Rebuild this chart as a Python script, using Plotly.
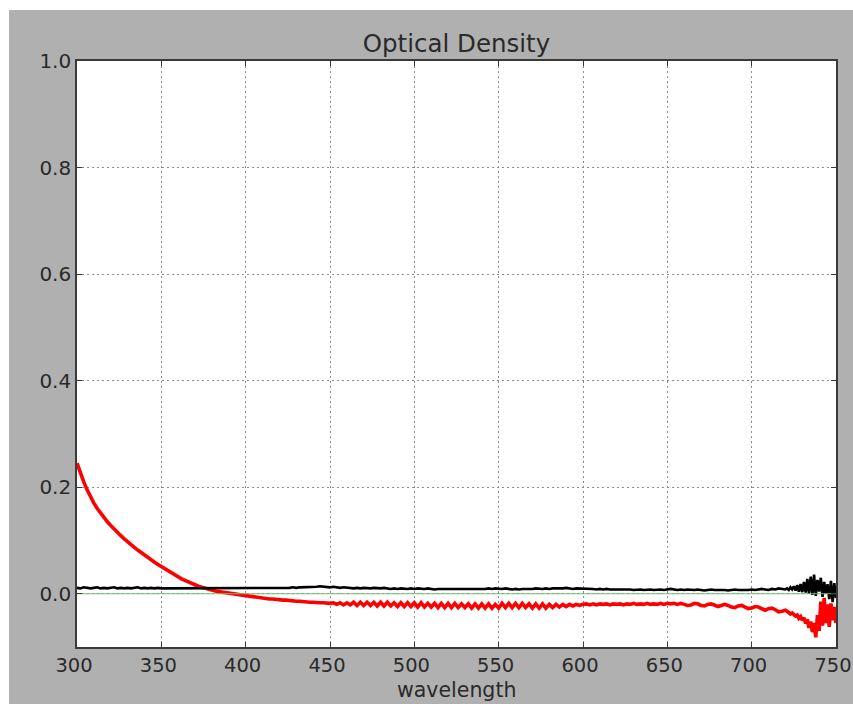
import plotly.graph_objects as go

# Wavelength sampling: 2 nm steps up to 720 nm, then 1 nm steps to 750 nm
wavelength = list(range(300, 722, 2)) + list(range(721, 751))

# Sample spectrum (red)
od_sample = [
    0.245, 0.226, 0.210, 0.195, 0.182, 0.170, 0.160, 0.151, 0.143, 0.135,
    0.128, 0.121, 0.115, 0.109, 0.103, 0.097, 0.092, 0.087, 0.082, 0.077,
    0.073, 0.068, 0.064, 0.059, 0.055, 0.051, 0.047, 0.043, 0.039, 0.035,
    0.031, 0.028, 0.025, 0.022, 0.019, 0.016, 0.014, 0.012, 0.010, 0.008,
    0.006, 0.005, 0.004, 0.003, 0.002, 0.001, 0.000, -0.001, -0.002, -0.003,
    -0.004, -0.005, -0.006, -0.007, -0.008, -0.008, -0.009, -0.010, -0.010, -0.011,
    -0.011, -0.012, -0.012, -0.013, -0.013, -0.014, -0.014, -0.015, -0.015, -0.016,
    -0.016, -0.017, -0.017, -0.017, -0.018, -0.018, -0.017, -0.020, -0.017, -0.021,
    -0.017, -0.021, -0.016, -0.022, -0.016, -0.022, -0.016, -0.022, -0.016, -0.023,
    -0.016, -0.023, -0.016, -0.023, -0.017, -0.024, -0.017, -0.024, -0.017, -0.024,
    -0.017, -0.025, -0.017, -0.025, -0.018, -0.025, -0.018, -0.026, -0.018, -0.026,
    -0.018, -0.026, -0.018, -0.026, -0.019, -0.026, -0.019, -0.027, -0.019, -0.027,
    -0.019, -0.027, -0.019, -0.027, -0.020, -0.027, -0.018, -0.026, -0.018, -0.026,
    -0.018, -0.026, -0.018, -0.026, -0.019, -0.027, -0.019, -0.027, -0.019, -0.027,
    -0.020, -0.026, -0.020, -0.025, -0.020, -0.024, -0.020, -0.023, -0.020, -0.022,
    -0.020, -0.019, -0.021, -0.019, -0.021, -0.019, -0.020, -0.019, -0.021, -0.019,
    -0.020, -0.019, -0.021, -0.019, -0.020, -0.018, -0.020, -0.019, -0.020, -0.018,
    -0.020, -0.019, -0.020, -0.018, -0.020, -0.018, -0.019, -0.018, -0.020, -0.018,
    -0.020, -0.022, -0.021, -0.018, -0.019, -0.022, -0.023, -0.020, -0.019, -0.022,
    -0.024, -0.022, -0.020, -0.022, -0.025, -0.026, -0.023, -0.022, -0.025, -0.028,
    -0.027, -0.024, -0.025, -0.029, -0.031, -0.028, -0.027, -0.030, -0.034, -0.033,
    -0.031,
    -0.033, -0.036, -0.038, -0.036, -0.039, -0.042, -0.040, -0.046, -0.043, -0.050,
    -0.045, -0.056, -0.048, -0.064, -0.052, -0.072, -0.055, -0.082, -0.040, -0.070,
    -0.015, -0.060, -0.008, -0.055, -0.020, -0.062, -0.018, -0.050, -0.025, -0.055,
]

# Reference spectrum (black)
od_reference = [
    0.011, 0.010, 0.012, 0.011, 0.010, 0.011, 0.012, 0.010, 0.011, 0.010,
    0.011, 0.012, 0.010, 0.011, 0.010, 0.011, 0.010, 0.011, 0.012, 0.010,
    0.011, 0.010, 0.011, 0.010, 0.011, 0.010, 0.010, 0.011, 0.010, 0.011,
    0.010, 0.011, 0.010, 0.010, 0.011, 0.010, 0.010, 0.011, 0.010, 0.010,
    0.011, 0.010, 0.010, 0.011, 0.010, 0.010, 0.011, 0.010, 0.010, 0.011,
    0.010, 0.010, 0.011, 0.010, 0.011, 0.010, 0.011, 0.011, 0.010, 0.011,
    0.011, 0.010, 0.011, 0.011, 0.012, 0.011, 0.012, 0.012, 0.013, 0.012,
    0.013, 0.013, 0.014, 0.013, 0.013, 0.012, 0.013, 0.012, 0.011, 0.012,
    0.011, 0.011, 0.010, 0.011, 0.010, 0.011, 0.010, 0.010, 0.011, 0.010,
    0.010, 0.011, 0.010, 0.009, 0.010, 0.009, 0.010, 0.009, 0.009, 0.010,
    0.009, 0.010, 0.009, 0.009, 0.010, 0.009, 0.008, 0.009, 0.009, 0.008,
    0.009, 0.008, 0.009, 0.008, 0.009, 0.009, 0.008, 0.009, 0.008, 0.009,
    0.008, 0.009, 0.010, 0.009, 0.010, 0.009, 0.009, 0.010, 0.009, 0.008,
    0.009, 0.008, 0.009, 0.009, 0.008, 0.009, 0.010, 0.009, 0.009, 0.010,
    0.009, 0.010, 0.010, 0.009, 0.010, 0.011, 0.010, 0.009, 0.010, 0.010,
    0.009, 0.010, 0.009, 0.009, 0.008, 0.009, 0.008, 0.009, 0.008, 0.008,
    0.009, 0.008, 0.008, 0.009, 0.008, 0.007, 0.008, 0.008, 0.007, 0.008,
    0.008, 0.007, 0.008, 0.008, 0.007, 0.008, 0.009, 0.008, 0.007, 0.008,
    0.007, 0.008, 0.007, 0.007, 0.008, 0.007, 0.006, 0.007, 0.008, 0.007,
    0.007, 0.008, 0.007, 0.006, 0.007, 0.008, 0.007, 0.007, 0.006, 0.007,
    0.008, 0.007, 0.008, 0.009, 0.008, 0.007, 0.009, 0.008, 0.010, 0.009,
    0.008,
    0.010, 0.007, 0.012, 0.008, 0.014, 0.006, 0.016, 0.004, 0.018, 0.003,
    0.022, 0.002, 0.028, 0.000, 0.032, -0.002, 0.036, -0.004, 0.026, 0.004,
    0.030, -0.006, 0.022, 0.000, 0.018, -0.010, 0.024, -0.016, 0.020, -0.008,
]

# Zero baseline (green)
baseline_x = [300, 750]
baseline_y = [0.0, 0.0]

x_ticks = [300, 350, 400, 450, 500, 550, 600, 650, 700, 750]
y_ticks = [0.0, 0.2, 0.4, 0.6, 0.8, 1.0]

FONT = "DejaVu Sans"
TEXT = "#2a2a2a"

fig = go.Figure()
fig.add_trace(go.Scatter(x=wavelength, y=od_sample, mode="lines",
                         line=dict(color="#ff0000", width=3.6), showlegend=False))
fig.add_trace(go.Scatter(x=wavelength, y=od_reference, mode="lines",
                         line=dict(color="#000000", width=2.6), showlegend=False))
fig.add_trace(go.Scatter(x=baseline_x, y=baseline_y, mode="lines",
                         line=dict(color="#70c070", width=1.2), showlegend=False))

axis_common = dict(
    showline=True, linecolor="#3a3a3a", linewidth=1.6, mirror="allticks",
    ticks="inside", ticklen=5, tickwidth=1, tickcolor="#3a3a3a",
    showgrid=True, gridcolor="#8c8c8c", gridwidth=1, griddash="1.5px,3.5px",
    zeroline=False, ticklabeloverflow="allow", automargin=False,
)

fig.update_xaxes(range=[299.999, 750.001], tickvals=x_ticks, ticklabelshift=-3,
                 tickfont=dict(family=FONT, size=19.5, color=TEXT), **axis_common)
fig.update_yaxes(range=[-0.1, 1.0], tickvals=y_ticks, tickformat=".1f",
                 tickfont=dict(family=FONT, size=20, color=TEXT), **axis_common)

fig.update_layout(
    width=853, height=704,
    margin=dict(l=77, r=17, t=61, b=57, autoexpand=False),
    paper_bgcolor="#b0b0b0", plot_bgcolor="#ffffff",
    title=dict(text="Optical Density", x=0.5, xref="paper", y=1 - 43 / 704,
               yanchor="middle", font=dict(family=FONT, size=24.5, color=TEXT)),
    annotations=[dict(text="wavelength", xref="paper", yref="paper", x=0.5,
                      y=-43 / 586, xanchor="center", yanchor="middle",
                      showarrow=False, font=dict(family=FONT, size=20.5, color=TEXT))],
    shapes=[
        # white strips along the top and left edges of the figure
        dict(type="rect", xref="paper", yref="paper", x0=-0.2, x1=1.2,
             y0=(647 - 10) / 586, y1=1.3, fillcolor="#ffffff", line_width=0, layer="below"),
        dict(type="rect", xref="paper", yref="paper", x0=-0.2, x1=(9 - 77) / 759,
             y0=-0.2, y1=1.3, fillcolor="#ffffff", line_width=0, layer="below"),
    ],
)

fig.write_html("out.html")
